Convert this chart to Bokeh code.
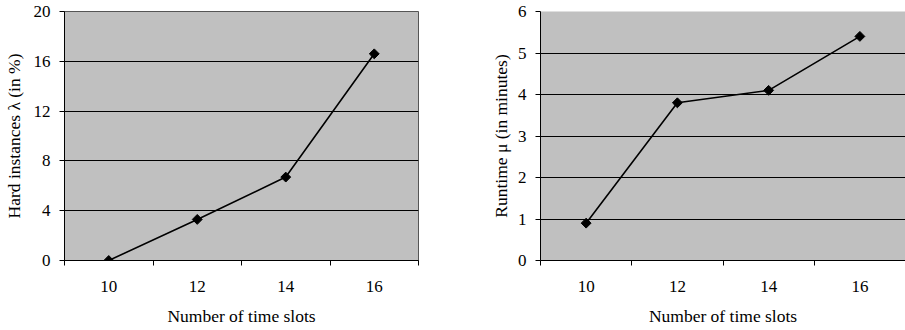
import math
from bokeh.plotting import figure
from bokeh.layouts import row
from bokeh.models import FixedTicker, Range1d
from bokeh.embed import file_html
from bokeh.resources import INLINE

slots = [10, 12, 14, 16]
bounds = [9, 11, 13, 15, 17]
hard = [0, 3.3, 6.7, 16.6]
runtime = [0.9, 3.8, 4.1, 5.4]
hard_ticks = [0, 4, 8, 12, 16, 20]
run_ticks = [0, 1, 2, 3, 4, 5, 6]

FONT = "Liberation Serif"


def make(yvals, yticks, ylabel, width, border_left, border_right, xend, outline, title_standoff):
    p = figure(width=width, height=330, output_backend="svg", toolbar_location=None,
               x_range=Range1d(9, xend), y_range=Range1d(yticks[0], yticks[-1]),
               min_border_left=border_left, min_border_right=border_right,
               min_border_top=11, min_border_bottom=70)
    p.background_fill_color = "#C0C0C0"
    p.border_fill_color = "white"
    p.outline_line_color = "#555555" if outline else None
    p.xgrid.visible = False
    p.ygrid.ticker = FixedTicker(ticks=yticks)
    p.ygrid.grid_line_color = "black"
    p.ygrid.grid_line_width = 1

    xa = p.xaxis[0]
    xa.ticker = FixedTicker(ticks=slots, minor_ticks=bounds)
    xa.major_tick_out = 0
    xa.major_tick_in = 0
    xa.minor_tick_out = 5
    xa.minor_tick_in = 0
    xa.minor_tick_line_color = "black"
    xa.axis_line_color = "black"
    xa.major_label_standoff = 15
    xa.axis_label = "Number of time slots"
    xa.axis_label_standoff = 11

    ya = p.yaxis[0]
    ya.ticker = FixedTicker(ticks=yticks)
    ya.major_tick_out = 5
    ya.major_tick_in = 0
    ya.minor_tick_out = 0
    ya.minor_tick_in = 0
    ya.axis_line_color = "black"
    ya.major_tick_line_color = "black"
    ya.major_label_standoff = 9
    ya.axis_label = ylabel
    ya.axis_label_standoff = title_standoff

    for ax in (xa, ya):
        ax.major_label_text_font = FONT
        ax.major_label_text_font_size = "17px"
        ax.major_label_text_color = "black"
        ax.axis_label_text_font = FONT
        ax.axis_label_text_font_size = "17.5px"
        ax.axis_label_text_font_style = "normal"
        ax.axis_label_text_color = "black"

    p.line(slots, yvals, line_color="black", line_width=1.6)
    p.scatter(slots, yvals, marker="square", angle=math.pi / 4, size=7,
              fill_color="black", line_color="black")
    return p


p1 = make(hard, hard_ticks, "Hard instances \u03bb (in %)", 470, 62, 52, 17, True, 7)
p2 = make(runtime, run_ticks, "Runtime \u03bc (in minutes)", 435, 70, 0, 17, False, 4)

layout = row(p1, p2)
open("out.html", "w").write(file_html(layout, INLINE))
